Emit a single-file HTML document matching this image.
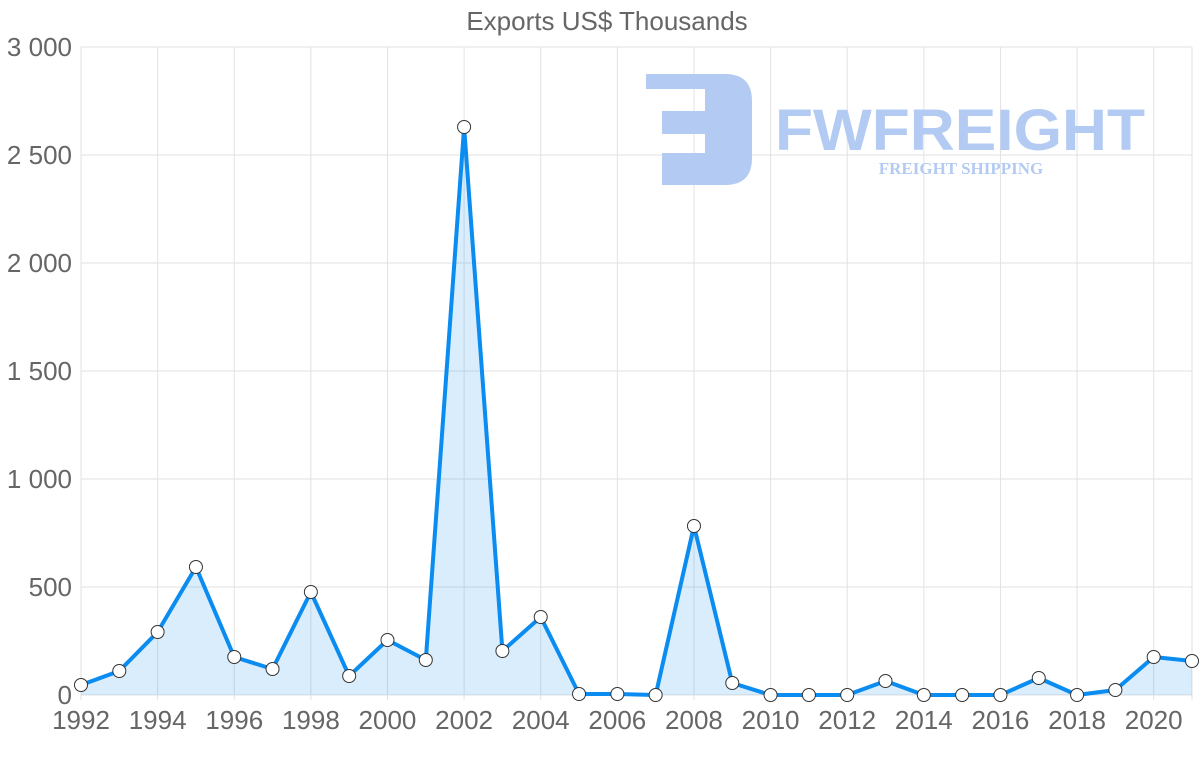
<!DOCTYPE html>
<html><head><style>body{margin:0;background:#fff}svg{display:block}</style></head><body>
<svg width="1200" height="763" xmlns="http://www.w3.org/2000/svg" font-family="Liberation Sans, sans-serif">
<text x="607" y="30" text-anchor="middle" font-size="26" fill="#666">Exports US$ Thousands</text>
<g id="grid" stroke="#e2e2e2" stroke-width="1"></g>
<g fill="#b3cbf2">
<path d="M646 74 H725 Q752 74 752 101 V158 Q752 185 725 185 H662 V153 H705 V134 H662 V111 H705 V89 H646 Z"/>
</g>
<text x="960" y="150" text-anchor="middle" font-size="58" font-weight="bold" fill="#b3cbf2" textLength="370" lengthAdjust="spacingAndGlyphs">FWFREIGHT</text>
<text x="961" y="174" text-anchor="middle" font-size="17" font-weight="bold" font-family="Liberation Serif, serif" fill="#b3cbf2">FREIGHT SHIPPING</text>
<g id="lbl" font-size="26" fill="#666"></g>
<path id="area" fill="rgba(0,136,238,0.15)"/>
<path id="line" fill="none" stroke="#0a8cf0" stroke-width="4" stroke-linejoin="round"/>
<g id="pts" fill="#fff" stroke="#333" stroke-width="1"></g>
<script>
var ns="http://www.w3.org/2000/svg";
function el(t,a,p,txt){var e=document.createElementNS(ns,t);for(var k in a)e.setAttribute(k,a[k]);if(txt)e.textContent=txt;document.getElementById(p).appendChild(e);}
var x0=81,dx=(1192-81)/29,y0=695,sc=648/3000;
for(var i=0;i<=6;i++){var y=y0-i*500*sc;el('line',{x1:81,x2:1192,y1:y,y2:y},'grid');
el('text',{x:72,y:y+9,'text-anchor':'end'},'lbl',i==0?'0':(i*500).toLocaleString('en').replace(',',' '));}
for(var j=0;j<=29;j+=2){var x=x0+j*dx;el('line',{x1:x,x2:x,y1:47,y2:700},'grid');
el('text',{x:x,y:729,'text-anchor':'middle'},'lbl',String(1992+j));}
el('line',{x1:1192,x2:1192,y1:47,y2:700},'grid');
var py=[685,671,632,567,657,669,592,676,640,660,127,651,617,694,694,695,526,683,695,695,695,681,695,695,695,678,695,690,657,661];
var d='';py.forEach(function(y,i){d+=(i?'L':'M')+(x0+i*dx)+' '+y;});
document.getElementById('line').setAttribute('d',d);
document.getElementById('area').setAttribute('d',d+'L1192 695L81 695Z');
py.forEach(function(y,i){el('circle',{cx:x0+i*dx,cy:y,r:6.5},'pts');});
</script>
</svg>
</body></html>
